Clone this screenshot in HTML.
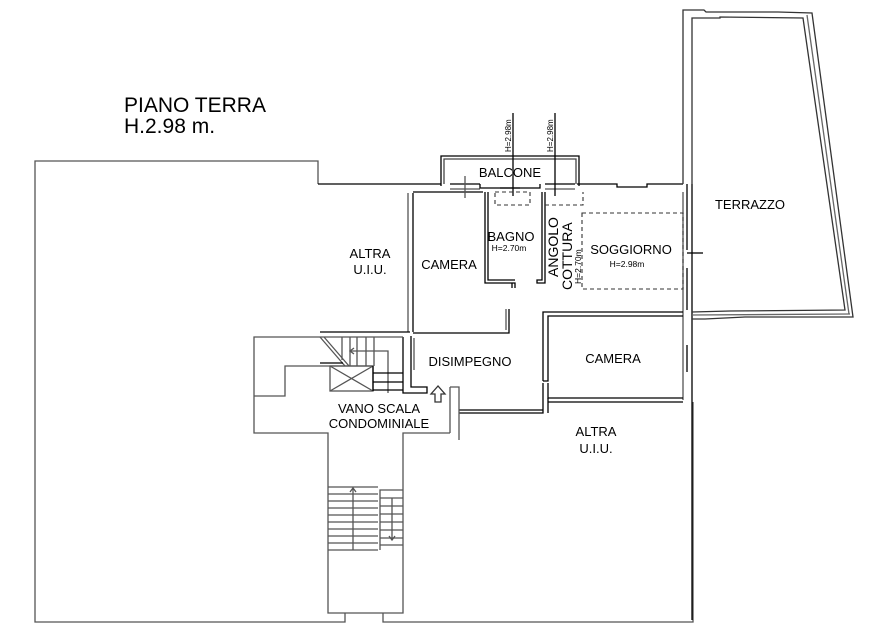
<!DOCTYPE html>
<html><head><meta charset="utf-8"><style>
html,body{margin:0;padding:0;background:#fff;}
svg{display:block;}
text{font-family:"Liberation Sans",sans-serif;fill:#000;}
</style></head><body>
<svg width="884" height="639" viewBox="0 0 884 639" xmlns="http://www.w3.org/2000/svg">
<g fill="none" stroke="#000" stroke-width="1.3">
<polyline points="318,184 318,161 35,161 35,622 345,622 345,613" stroke="#555"/>
<polyline points="383,613 383,622 693,622 693,402" stroke="#555"/>
<polyline points="318,184 441,184"/>
<polyline points="577,184 617,184 617,187 647,187 647,184 683,184"/>
<polyline points="413,192 483,192"/>
<polyline points="441,186 441,156 579,156 579,186"/>
<polyline points="444,184 444,159 576,159 576,184" stroke="#444"/>
<line x1="450" y1="184" x2="480" y2="184"/>
<line x1="450" y1="189" x2="480" y2="189" stroke="#555"/>
<line x1="465" y1="176" x2="465" y2="198" stroke="#555"/>
<polyline points="480,184 480,188 540,188 540,184"/>
<line x1="500" y1="188" x2="520" y2="188"/>
<line x1="545" y1="184" x2="575" y2="184"/>
<line x1="545" y1="189" x2="575" y2="189" stroke="#555"/>
<line x1="513" y1="113" x2="513" y2="196"/>
<line x1="555" y1="113" x2="555" y2="196"/>
<line x1="408" y1="193" x2="408" y2="332" stroke="#555"/>
<line x1="413" y1="193" x2="413" y2="332"/>
<polyline points="413,333 509,333 509,309"/>
<line x1="506" y1="309" x2="506" y2="330" stroke="#555"/>
<polyline points="485,192 485,283 515,283 515,288"/>
<polyline points="488,192 488,280 515,280"/>
<line x1="512" y1="283" x2="512" y2="288"/>
<polyline points="545,192 545,283 537,283 537,280 542,280 542,192"/>
<line x1="683" y1="192" x2="683" y2="400" stroke="#555"/>
<line x1="687" y1="184" x2="687" y2="250"/>
<line x1="687" y1="268" x2="687" y2="310"/>
<line x1="687" y1="345" x2="687" y2="372"/>
<line x1="692" y1="184" x2="692" y2="620"/>
<line x1="687" y1="253" x2="703" y2="253"/>
<polyline points="683,184 683,10 704,10 706,12 778,12 812,13 853,317 745,317 705,319 692,319" stroke="#333"/>
<polyline points="692,184 692,18 720,18 720,17 803,18 845,310 730,311 692,312" stroke="#333"/>
<line x1="807" y1="15" x2="849" y2="314" stroke="#666"/>
<line x1="692" y1="315" x2="850" y2="314" stroke="#666"/>
<polyline points="543,381 543,312 683,312"/>
<polyline points="548,358 548,316 683,316"/>
<polyline points="543,381 548,381 548,358" />
<polyline points="543,383 543,413 459,413"/>
<polyline points="548,383 548,398 683,398"/>
<line x1="548" y1="402" x2="683" y2="402"/>
<line x1="548" y1="398" x2="548" y2="413"/>
<line x1="459" y1="410" x2="543" y2="410"/>
<polyline points="411,336 411,387 427,387 427,393 403,393 403,337"/>
<line x1="414" y1="338" x2="414" y2="370" stroke="#555"/>
<polyline points="450,387 459,387 459,440" stroke="#555"/>
<line x1="450" y1="387" x2="450" y2="433" stroke="#555"/>
<polyline points="320,332 410,332"/>
<polyline points="403,337 254,337 254,433 328,433 328,613 403,613 403,433 450,433" stroke="#555"/>
<polyline points="254,396 285,396 285,366 373,366" stroke="#555"/>
<line x1="320" y1="337" x2="345" y2="366" stroke="#555"/>
<line x1="324" y1="337" x2="349" y2="366" stroke="#555"/>
<line x1="320" y1="363" x2="343" y2="363"/>
<line x1="342" y1="337" x2="342" y2="360" stroke="#555"/>
<line x1="350" y1="337" x2="350" y2="366" stroke="#555"/>
<line x1="357" y1="337" x2="357" y2="366" stroke="#555"/>
<line x1="366" y1="337" x2="366" y2="366" stroke="#555"/>
<line x1="374" y1="337" x2="374" y2="366" stroke="#555"/>
<polyline points="350,351 388,351 388,393" stroke="#555"/>
<polyline points="354,348 350,351 354,354" stroke="#555"/>
<rect x="330" y="366" width="43" height="25" stroke="#555"/>
<line x1="330" y1="366" x2="373" y2="391" stroke="#555"/>
<line x1="373" y1="366" x2="330" y2="391" stroke="#555"/>
<line x1="373" y1="373" x2="403" y2="373"/>
<line x1="373" y1="382" x2="403" y2="382"/>
<line x1="373" y1="390" x2="403" y2="390"/>
<line x1="373" y1="366" x2="373" y2="391"/>
<polygon points="438,386 431,394 435,394 435,402 441,402 441,394 445,394" stroke="#333"/>
<g stroke="#555">
<line x1="328" y1="487" x2="378" y2="487"/>
<line x1="328" y1="494" x2="378" y2="494"/>
<line x1="328" y1="501" x2="378" y2="501"/>
<line x1="328" y1="508" x2="378" y2="508"/>
<line x1="328" y1="515" x2="378" y2="515"/>
<line x1="328" y1="522" x2="378" y2="522"/>
<line x1="328" y1="529" x2="378" y2="529"/>
<line x1="328" y1="536" x2="378" y2="536"/>
<line x1="328" y1="543" x2="378" y2="543"/>
<line x1="328" y1="550" x2="378" y2="550"/>
<line x1="353" y1="487" x2="353" y2="550"/>
<polyline points="350,492 353,488 356,492"/>
<polyline points="380,550 380,490 403,490"/>
<line x1="380" y1="498" x2="403" y2="498"/>
<line x1="380" y1="506" x2="403" y2="506"/>
<line x1="380" y1="514" x2="403" y2="514"/>
<line x1="380" y1="522" x2="403" y2="522"/>
<line x1="380" y1="530" x2="403" y2="530"/>
<line x1="380" y1="538" x2="403" y2="538"/>
<line x1="380" y1="545" x2="403" y2="545"/>
<line x1="392" y1="498" x2="392" y2="540"/>
<polyline points="389,536 392,540 395,536"/>
</g>
<g stroke-dasharray="4,3" stroke="#333" stroke-width="1.1">
<rect x="495" y="192" width="35" height="13"/>
<polyline points="545,205 583,205 583,192"/>
<rect x="582" y="213" width="101" height="76"/>
</g>
</g>
<g font-size="13">
<text x="124" y="112" font-size="21">PIANO TERRA</text>
<text x="124" y="133" font-size="21">H.2.98 m.</text>
<text x="510" y="177" text-anchor="middle">BALCONE</text>
<text x="511" y="241" text-anchor="middle">BAGNO</text>
<text x="509" y="251" text-anchor="middle" font-size="8.5">H=2.70m</text>
<text x="449" y="269" text-anchor="middle">CAMERA</text>
<text x="370" y="258" text-anchor="middle">ALTRA</text>
<text x="370" y="274" text-anchor="middle">U.I.U.</text>
<text x="631" y="254" text-anchor="middle">SOGGIORNO</text>
<text x="627" y="267" text-anchor="middle" font-size="8.5">H=2.98m</text>
<text x="750" y="209" text-anchor="middle">TERRAZZO</text>
<text x="470" y="366" text-anchor="middle">DISIMPEGNO</text>
<text x="613" y="363" text-anchor="middle">CAMERA</text>
<text x="596" y="436" text-anchor="middle">ALTRA</text>
<text x="596" y="453" text-anchor="middle">U.I.U.</text>
<text x="379" y="413" text-anchor="middle">VANO SCALA</text>
<text x="379" y="428" text-anchor="middle">CONDOMINIALE</text>
<text transform="translate(558,277) rotate(-90)" font-size="14">ANGOLO</text>
<text transform="translate(572,290) rotate(-90)" font-size="14">COTTURA</text>
<text transform="translate(581,284) rotate(-90)" font-size="8.5">H=2.70m</text>
<text transform="translate(511,152) rotate(-90)" font-size="8">H=2.98m</text>
<text transform="translate(553,152) rotate(-90)" font-size="8">H=2.98m</text>
</g>
</svg>
</body></html>
